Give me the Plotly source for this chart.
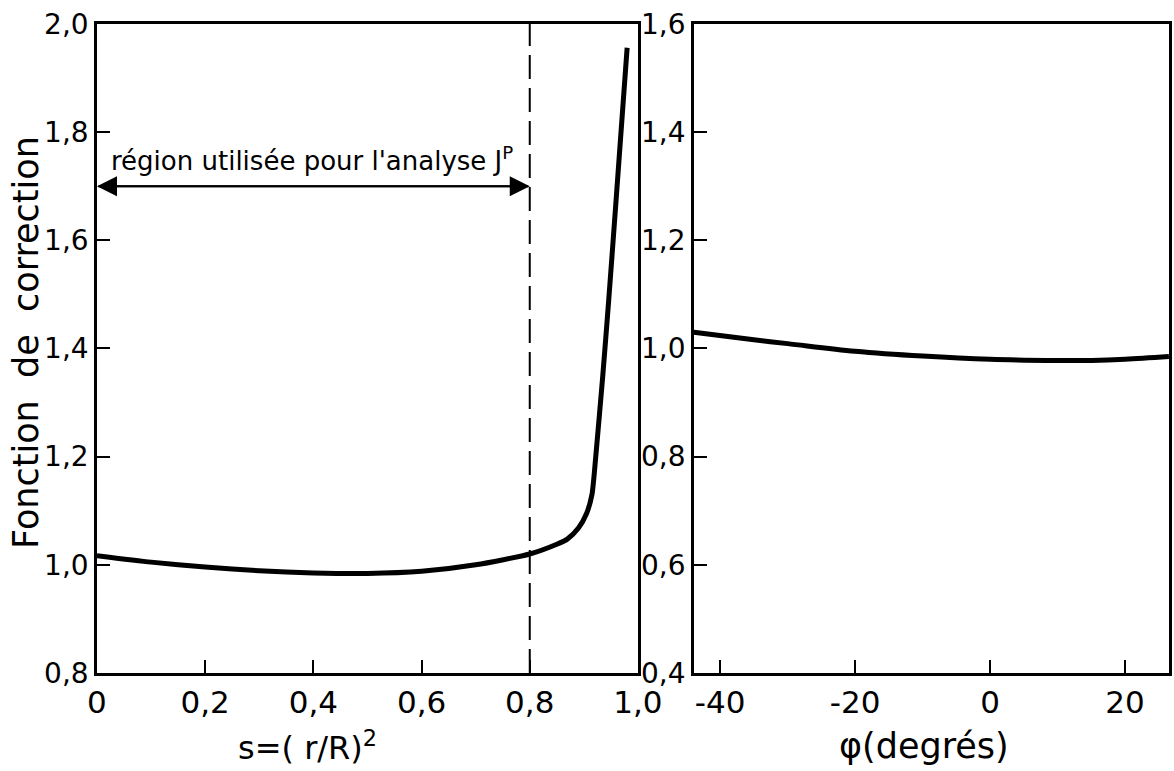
import plotly.graph_objects as go

# Left panel data: correction function vs s=(r/R)^2
s_vals = [0.0, 0.1, 0.2, 0.3, 0.4, 0.5, 0.6, 0.7, 0.8, 0.85, 0.87, 0.89, 0.905, 0.915, 0.922, 0.935, 0.946, 0.96, 0.98]
f_s = [1.017, 1.005, 0.996, 0.989, 0.985, 0.984, 0.988, 1.000, 1.020, 1.038, 1.048, 1.068, 1.095, 1.13, 1.20, 1.35, 1.49, 1.68, 1.956]

# Right panel data: correction function vs phi (degrees)
phi_vals = [-43.9, -35, -30, -20, -10, 0, 10, 15, 20, 26.5]
f_phi = [1.030, 1.016, 1.009, 0.995, 0.986, 0.980, 0.978, 0.978, 0.980, 0.985]

left_xticks = [0, 0.2, 0.4, 0.6, 0.8, 1.0]
left_xlabels = ["0", "0,2", "0,4", "0,6", "0,8", "1,0"]
left_yticks = [0.8, 1.0, 1.2, 1.4, 1.6, 1.8, 2.0]
left_ylabels = ["0,8", "1,0", "1,2", "1,4", "1,6", "1,8", "2,0"]
right_xticks = [-40, -20, 0, 20]
right_xlabels = ["-40", "-20", "0", "20"]
right_yticks = [0.4, 0.6, 0.8, 1.0, 1.2, 1.4, 1.6]
right_ylabels = ["0,4", "0,6", "0,8", "1,0", "1,2", "1,4", "1,6"]

FONT = "DejaVu Sans"
fig = go.Figure()
fig.add_trace(go.Scatter(x=s_vals, y=f_s, mode="lines", line=dict(color="black", width=5, shape="spline", smoothing=0.6),
                         xaxis="x", yaxis="y", showlegend=False))
fig.add_trace(go.Scatter(x=phi_vals, y=f_phi, mode="lines", line=dict(color="black", width=5, shape="spline"),
                         xaxis="x2", yaxis="y2", showlegend=False))

axis_common = dict(showline=True, linecolor="black", linewidth=2.5, mirror=True, ticks="inside", ticklen=13,
                   tickwidth=2, tickcolor="black", showgrid=False, zeroline=False, automargin=False)
xfont = dict(family=FONT, size=31, color="black")
yfont = dict(family=FONT, size=28, color="black")

fig.update_layout(
    width=1174, height=771, margin=dict(l=0, r=0, t=0, b=0, autoexpand=False),
    paper_bgcolor="white", plot_bgcolor="white",
    xaxis=dict(domain=[0.0826, 0.5434], range=[0, 1.0], tickvals=left_xticks, ticktext=left_xlabels,
               anchor="y", tickfont=xfont, **axis_common),
    yaxis=dict(domain=[0.1271, 0.9689], range=[0.8, 2.0], tickvals=left_yticks, ticktext=left_ylabels,
               anchor="x", tickfont=yfont, ticklabelstandoff=0, **axis_common),
    xaxis2=dict(domain=[0.591, 0.9957], range=[-43.9, 26.5], tickvals=right_xticks, ticktext=right_xlabels,
                anchor="y2", tickfont=xfont, **axis_common),
    yaxis2=dict(domain=[0.1271, 0.9689], range=[0.4, 1.6], tickvals=right_yticks, ticktext=right_ylabels,
                anchor="x2", tickfont=yfont, ticklabelstandoff=0, **axis_common),
)

# dashed line at s = 0.8
fig.add_shape(type="line", xref="x", yref="y", x0=0.8, x1=0.8, y0=0.8, y1=2.0,
              line=dict(color="black", width=2, dash="24px,9px"))

# double arrow
for x_head, x_tail in [(0.0, 0.8), (0.8, 0.0)]:
    fig.add_annotation(x=x_head, y=1.70, ax=x_tail, ay=1.70, xref="x", yref="y", axref="x", ayref="y",
                       text="", showarrow=True, arrowhead=2, arrowsize=2, arrowwidth=2, arrowcolor="black")

fig.add_annotation(x=0.022, y=1.75, xref="x", yref="y", xanchor="left", yanchor="middle", showarrow=False,
                   text="région utilisée pour l'analyse J<sup>P</sup>", font=dict(family=FONT, size=26, color="black"))

# y-axis title
fig.add_annotation(x=26 / 1174, y=1 - 343 / 771, xref="paper", yref="paper", xanchor="center", yanchor="middle",
                   textangle=-90, showarrow=False,
                   text="Fonction  de  correction", font=dict(family=FONT, size=35, color="black"))
# x-axis titles
fig.add_annotation(x=307 / 1174, y=1 - 746 / 771, xref="paper", yref="paper", xanchor="center", yanchor="middle",
                   showarrow=False,
                   text="s=( r/R)<sup>2</sup>", font=dict(family=FONT, size=32, color="black"))
fig.add_annotation(x=924 / 1174, y=1 - 746 / 771, xref="paper", yref="paper", xanchor="center", yanchor="middle",
                   showarrow=False,
                   text="φ(degrés)", font=dict(family=FONT, size=35, color="black"))

fig.write_html("out.html")
